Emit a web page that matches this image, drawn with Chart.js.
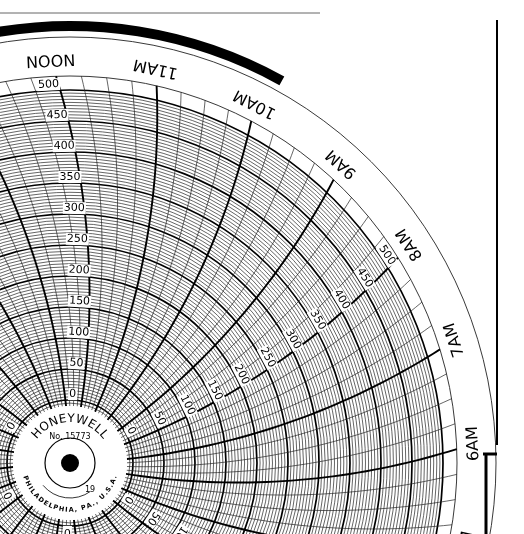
<!DOCTYPE html>
<html><head><meta charset="utf-8">
<script src="https://cdn.jsdelivr.net/npm/chart.js@4.4.0/dist/chart.umd.min.js"></script>
<style>html,body{margin:0;padding:0;background:#fff;overflow:hidden}</style>
</head><body>
<canvas id="c" width="524" height="534"></canvas>
<script>
// ---- data ----
const scaleLabels = [0, 50, 100, 150, 200, 250, 300, 350, 400, 450, 500];
const hourNames = ['4AM','5AM','6AM','7AM','8AM','9AM','10AM','11AM','NOON','1PM','2PM','3PM','4PM','5PM','6PM','7PM','8PM','9PM','10PM','11PM','MIDNIGHT','1AM','2AM','3AM'];
const hourValues = [4,5,6,7,8,9,10,11,12,13,14,15,16,17,18,19,20,21,22,23,24,25,26,27];
const labelHours = [4, 8, 12, 16, 20, 24];
const scaleMin = 0, scaleMax = 500, minorStep = 5, majorStep = 50;
const minutesPerLine = 15;

// geometry in value units
const OFFSET = 101.6;
const ARC = 1180;
const R0 = scaleMax + OFFSET;
const deg = Math.PI / 180;
function R(v){ return v + OFFSET; }
function ang(h, r){
  const th0 = (h - 6) * 15 + 1.5;
  return th0 + (Math.acos(R0/(2*ARC)) - Math.acos(r/(2*ARC))) / deg;
}

const chartPlugin = {
  id: 'recorder',
  afterDraw(chart){
    const ctx = chart.ctx, sx = chart.scales.x, sy = chart.scales.y;
    const P = (xu, yu) => [sx.getPixelForValue(xu), sy.getPixelForValue(yu)];
    const k = sx.getPixelForValue(1) - sx.getPixelForValue(0);
    const [cx, cy] = P(0, 0);
    const polar = (r, a) => P(r*Math.cos(a*deg), r*Math.sin(a*deg));
    ctx.save();
    ctx.fillStyle = '#fff'; ctx.fillRect(0,0,chart.width,chart.height);
    const hubR = 57;
    const rHubU = hubR / k;
    const tickOuterU = 387 / k;
    for (let v = scaleMin; v <= scaleMax; v += minorStep){
      ctx.beginPath();
      ctx.lineWidth = (v % majorStep === 0) ? 1.7 : 0.7;
      ctx.strokeStyle = (v % majorStep === 0) ? '#000' : '#222';
      ctx.arc(cx, cy, R(v)*k, 0, 2*Math.PI); ctx.stroke();
    }
    for (let r = R(0) - minorStep; r > rHubU; r -= minorStep){
      ctx.beginPath(); ctx.lineWidth = 0.7; ctx.strokeStyle='#222';
      ctx.arc(cx, cy, r*k, 0, 2*Math.PI); ctx.stroke();
    }
    ctx.lineWidth = 0.9; ctx.strokeStyle = '#222';
    ctx.beginPath(); ctx.arc(cx, cy, tickOuterU*k, 0, 2*Math.PI); ctx.stroke();
    ctx.beginPath(); ctx.arc(cx, cy, 426, 0, 2*Math.PI); ctx.stroke();
    const n = 24*60/minutesPerLine;
    for (let i = 0; i < n; i++){
      const h = 4 + i*minutesPerLine/60;
      const isHour = i % (60/minutesPerLine) === 0;
      ctx.beginPath();
      ctx.lineWidth = isHour ? 1.9 : 0.7;
      ctx.strokeStyle = isHour ? '#000' : '#222';
      const steps = 40;
      for (let s = 0; s <= steps; s++){
        const r = rHubU + (tickOuterU - rHubU) * s / steps;
        const [x, y] = polar(r, ang(h, r));
        s === 0 ? ctx.moveTo(x, y) : ctx.lineTo(x, y);
      }
      ctx.stroke();
    }
    ctx.font = '11px "DejaVu Sans", sans-serif';
    ctx.textAlign = 'center'; ctx.textBaseline = 'middle';
    labelHours.forEach(h => {
      scaleLabels.forEach(v => {
        const r = R(v) + 6/k;
        const a = ang(h, r) + (10/(r*k))/deg;
        const [x, y] = polar(r, a);
        ctx.save(); ctx.translate(x, y); ctx.rotate((90 - a)*deg);
        const w = ctx.measureText(String(v)).width;
        ctx.fillStyle = '#fff'; ctx.fillRect(-w/2-1, -6, w+2, 12);
        ctx.fillStyle = '#000'; ctx.fillText(String(v), 0, 0);
        ctx.restore();
      });
    });
    ctx.font = '16px "DejaVu Sans", sans-serif';
    hourValues.forEach((h, i) => {
      const r = 404 / k;
      const a = ang(h, r);
      const [x, y] = polar(r, a);
      ctx.save(); ctx.translate(x, y); ctx.rotate((90 - a + 180)*deg);
      ctx.fillStyle = '#000'; ctx.fillText(hourNames[i], 0, 0);
      ctx.restore();
    });
    ctx.beginPath(); ctx.lineWidth = 10; ctx.strokeStyle = '#000';
    ctx.arc(cx, cy, 437, -101*deg, -61*deg); ctx.stroke();
    ctx.beginPath(); ctx.fillStyle = '#fff'; ctx.arc(cx, cy, hubR, 0, 2*Math.PI); ctx.fill();
    ctx.beginPath(); ctx.lineWidth = 1.2; ctx.strokeStyle = '#000'; ctx.arc(cx, cy, 25, 0, 2*Math.PI); ctx.stroke();
    ctx.beginPath(); ctx.fillStyle = '#000'; ctx.arc(cx, cy, 9, 0, 2*Math.PI); ctx.fill();
    ctx.beginPath(); ctx.lineWidth = 0.8; ctx.arc(cx, cy, 35, 0.3*Math.PI, 0.78*Math.PI); ctx.stroke();
    function arcText(text, r, top, font){
      ctx.font = font; ctx.fillStyle = '#000';
      const widths = [...text].map(c => ctx.measureText(c).width + 1);
      const total = widths.reduce((a,b)=>a+b,0);
      let t = (top ? -Math.PI/2 : Math.PI/2) + (top ? -1 : 1) * total/(2*r);
      [...text].forEach((c, i) => {
        const tc = t + (top ? 1 : -1) * widths[i]/(2*r);
        ctx.save(); ctx.translate(cx + r*Math.cos(tc), cy + r*Math.sin(tc));
        ctx.rotate(top ? tc + Math.PI/2 : tc - Math.PI/2);
        ctx.fillText(c, 0, 0); ctx.restore();
        t += (top ? 1 : -1) * widths[i]/r;
      });
    }
    arcText('HONEYWELL', 44, true, '12px "DejaVu Sans", sans-serif');
    arcText('PHILADELPHIA, PA., U.S.A.', 47, false, 'bold 6.5px "DejaVu Sans", sans-serif');
    ctx.font = '8px "DejaVu Sans", sans-serif'; ctx.fillStyle = '#000';
    ctx.fillText('No. 15773', cx, cy - 26);
    ctx.fillText('19', cx + 20, cy + 27);
    ctx.lineWidth = 1; ctx.strokeStyle = '#666';
    ctx.beginPath(); ctx.moveTo(0, 13); ctx.lineTo(320, 13); ctx.stroke();
    ctx.lineWidth = 2; ctx.strokeStyle = '#000';
    ctx.beginPath(); ctx.moveTo(497, 20); ctx.lineTo(497, 445); ctx.stroke();
    ctx.lineWidth = 3;
    ctx.beginPath(); ctx.moveTo(483, 454); ctx.lineTo(497, 454); ctx.stroke();
    ctx.beginPath(); ctx.moveTo(486, 454); ctx.lineTo(486, 534); ctx.stroke();
    ctx.restore();
  }
};

const PXU = 0.62;
new Chart(document.getElementById('c'), {
  type: 'scatter',
  data: { datasets: [{ data: [], showLine: false }] },
  options: {
    responsive: false, animation: false,
    layout: { padding: 0 },
    plugins: { legend: { display: false }, tooltip: { enabled: false } },
    scales: {
      x: { type: 'linear', display: false, min: -70/PXU, max: 454/PXU },
      y: { type: 'linear', display: false, min: -71/PXU, max: 463/PXU }
    }
  },
  plugins: [chartPlugin]
});
</script>
</body></html>
